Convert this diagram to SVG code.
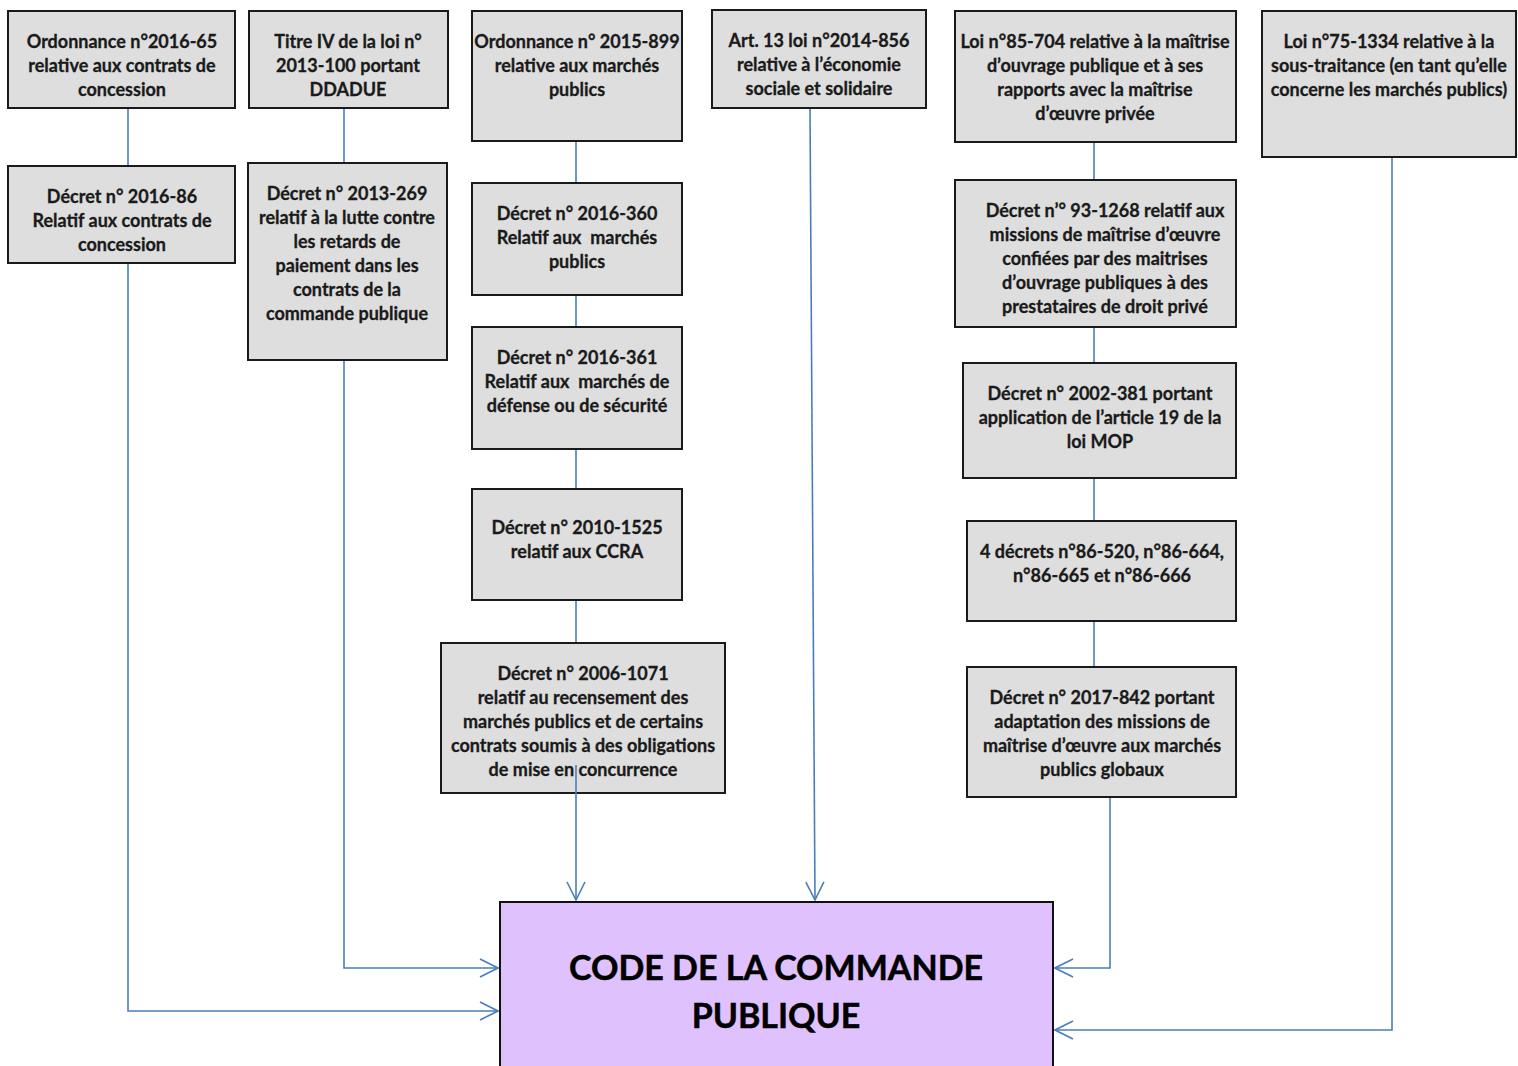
<svg xmlns="http://www.w3.org/2000/svg" width="1518" height="1066" viewBox="0 0 1518 1066">
<style>
.box{fill:#dedede;stroke:#1a1a1a;stroke-width:2}
.main{fill:#dfc2fd;stroke:#111;stroke-width:2}
.t{font-family:Lato,"Liberation Sans",sans-serif;font-weight:bold;font-size:18px;fill:#1a1a1a;stroke:#1a1a1a;stroke-width:0.3;text-anchor:middle;white-space:pre}
.big{font-family:Lato,"Liberation Sans",sans-serif;font-weight:bold;font-size:34px;fill:#000;stroke:#000;stroke-width:0.5;text-anchor:middle}
.c{fill:none;stroke:#4a7ebb;stroke-width:1.6}
</style>
<defs>
<marker id="arr" viewBox="0 0 20 20" refX="19" refY="10" markerWidth="20" markerHeight="20" markerUnits="userSpaceOnUse" orient="auto">
<path d="M1,1 L19,10 L1,19" fill="none" stroke="#4a7ebb" stroke-width="1.6"/>
</marker>
</defs>
<rect width="1518" height="1066" fill="#fff"/>
<g id="n1"><rect class="box" x="8" y="11" width="227" height="97"/>
<text class="t" x="122"><tspan x="122" y="48">Ordonnance n°2016-65</tspan><tspan x="122" y="72">relative aux contrats de</tspan><tspan x="122" y="96">concession</tspan></text></g>
<g id="n2"><rect class="box" x="249" y="11" width="199" height="97"/>
<text class="t"><tspan x="348" y="48">Titre IV de la loi n°</tspan><tspan x="348" y="72">2013-100 portant</tspan><tspan x="348" y="96">DDADUE</tspan></text></g>
<g id="n3"><rect class="box" x="472" y="11" width="210" height="130"/>
<text class="t"><tspan x="577" y="48">Ordonnance n° 2015-899</tspan><tspan x="577" y="72">relative aux marchés</tspan><tspan x="577" y="96">publics</tspan></text></g>
<g id="n4"><rect class="box" x="712" y="10" width="214" height="98"/>
<text class="t"><tspan x="819" y="47">Art. 13 loi n°2014-856</tspan><tspan x="819" y="71">relative à l’économie</tspan><tspan x="819" y="95">sociale et solidaire</tspan></text></g>
<g id="n5"><rect class="box" x="955" y="11" width="281" height="131"/>
<text class="t"><tspan x="1095" y="48">Loi n°85-704 relative à la maîtrise</tspan><tspan x="1095" y="72">d’ouvrage publique et à ses</tspan><tspan x="1095" y="96">rapports avec la maîtrise</tspan><tspan x="1095" y="120">d’œuvre privée</tspan></text></g>
<g id="n6"><rect class="box" x="1262" y="11" width="254" height="146"/>
<text class="t"><tspan x="1389" y="48">Loi n°75-1334 relative à la</tspan><tspan x="1389" y="72">sous-traitance (en tant qu’elle</tspan><tspan x="1389" y="96">concerne les marchés publics)</tspan></text></g>
<g id="n1b"><rect class="box" x="8" y="166" width="227" height="97"/>
<text class="t"><tspan x="122" y="203">Décret n° 2016-86</tspan><tspan x="122" y="227">Relatif aux contrats de</tspan><tspan x="122" y="251">concession</tspan></text></g>
<g id="n2b"><rect class="box" x="248" y="163" width="199" height="197"/>
<text class="t"><tspan x="347" y="200">Décret n° 2013-269</tspan><tspan x="347" y="224">relatif à la lutte contre</tspan><tspan x="347" y="248">les retards de</tspan><tspan x="347" y="272">paiement dans les</tspan><tspan x="347" y="296">contrats de la</tspan><tspan x="347" y="320">commande publique</tspan></text></g>
<g id="n3b"><rect class="box" x="472" y="183" width="210" height="112"/>
<text class="t"><tspan x="577" y="220">Décret n° 2016-360</tspan><tspan x="577" y="244">Relatif aux  marchés</tspan><tspan x="577" y="268">publics</tspan></text></g>
<g id="n3c"><rect class="box" x="472" y="327" width="210" height="122"/>
<text class="t"><tspan x="577" y="364">Décret n° 2016-361</tspan><tspan x="577" y="388">Relatif aux  marchés de</tspan><tspan x="577" y="412">défense ou de sécurité</tspan></text></g>
<g id="n3d"><rect class="box" x="472" y="489" width="210" height="111"/>
<text class="t"><tspan x="577" y="534">Décret n° 2010-1525</tspan><tspan x="577" y="558">relatif aux CCRA</tspan></text></g>
<g id="n3e"><rect class="box" x="441" y="643" width="284" height="150"/>
<text class="t"><tspan x="583" y="680">Décret n° 2006-1071</tspan><tspan x="583" y="704">relatif au recensement des</tspan><tspan x="583" y="728">marchés publics et de certains</tspan><tspan x="583" y="752">contrats soumis à des obligations</tspan><tspan x="583" y="776">de mise en concurrence</tspan></text></g>
<g id="n5b"><rect class="box" x="955" y="180" width="281" height="147"/>
<text class="t"><tspan x="1105" y="217">Décret n’° 93-1268 relatif aux</tspan><tspan x="1105" y="241">missions de maîtrise d’œuvre</tspan><tspan x="1105" y="265">confiées par des maitrises</tspan><tspan x="1105" y="289">d’ouvrage publiques à des</tspan><tspan x="1105" y="313">prestataires de droit privé</tspan></text></g>
<g id="n5c"><rect class="box" x="963" y="363" width="273" height="115"/>
<text class="t"><tspan x="1100" y="400">Décret n° 2002-381 portant</tspan><tspan x="1100" y="424">application de l’article 19 de la</tspan><tspan x="1100" y="448">loi MOP</tspan></text></g>
<g id="n5d"><rect class="box" x="967" y="521" width="269" height="100"/>
<text class="t"><tspan x="1102" y="558">4 décrets n°86-520, n°86-664,</tspan><tspan x="1102" y="582">n°86-665 et n°86-666</tspan></text></g>
<g id="n5e"><rect class="box" x="967" y="667" width="269" height="130"/>
<text class="t"><tspan x="1102" y="704">Décret n° 2017-842 portant</tspan><tspan x="1102" y="728">adaptation des missions de</tspan><tspan x="1102" y="752">maîtrise d’œuvre aux marchés</tspan><tspan x="1102" y="776">publics globaux</tspan></text></g>
<g id="main"><rect class="main" x="500" y="902" width="553" height="170"/>
<text class="big"><tspan x="776" y="980">CODE DE LA COMMANDE</tspan><tspan x="776" y="1028">PUBLIQUE</tspan></text></g>
<g id="connectors">
<line class="c" x1="128" y1="109" x2="128" y2="165"/>
<polyline class="c" points="128,264 128,1011 498,1011" marker-end="url(#arr)"/>
<line class="c" x1="344" y1="109" x2="344" y2="162"/>
<polyline class="c" points="344,361 344,968 498,968" marker-end="url(#arr)"/>
<line class="c" x1="576" y1="142" x2="576" y2="182"/>
<line class="c" x1="576" y1="296" x2="576" y2="326"/>
<line class="c" x1="576" y1="450" x2="576" y2="488"/>
<line class="c" x1="576" y1="601" x2="576" y2="642"/>
<line class="c" x1="576" y1="765" x2="576" y2="900" marker-end="url(#arr)"/>
<line class="c" x1="810" y1="109" x2="815" y2="900" marker-end="url(#arr)"/>
<line class="c" x1="1094" y1="143" x2="1094" y2="179"/>
<line class="c" x1="1094" y1="328" x2="1094" y2="362"/>
<line class="c" x1="1094" y1="479" x2="1094" y2="520"/>
<line class="c" x1="1094" y1="622" x2="1094" y2="666"/>
<polyline class="c" points="1110,798 1110,968 1055,968" marker-end="url(#arr)"/>
<polyline class="c" points="1392,158 1392,1030 1055,1030" marker-end="url(#arr)"/>
</g>
</svg>
